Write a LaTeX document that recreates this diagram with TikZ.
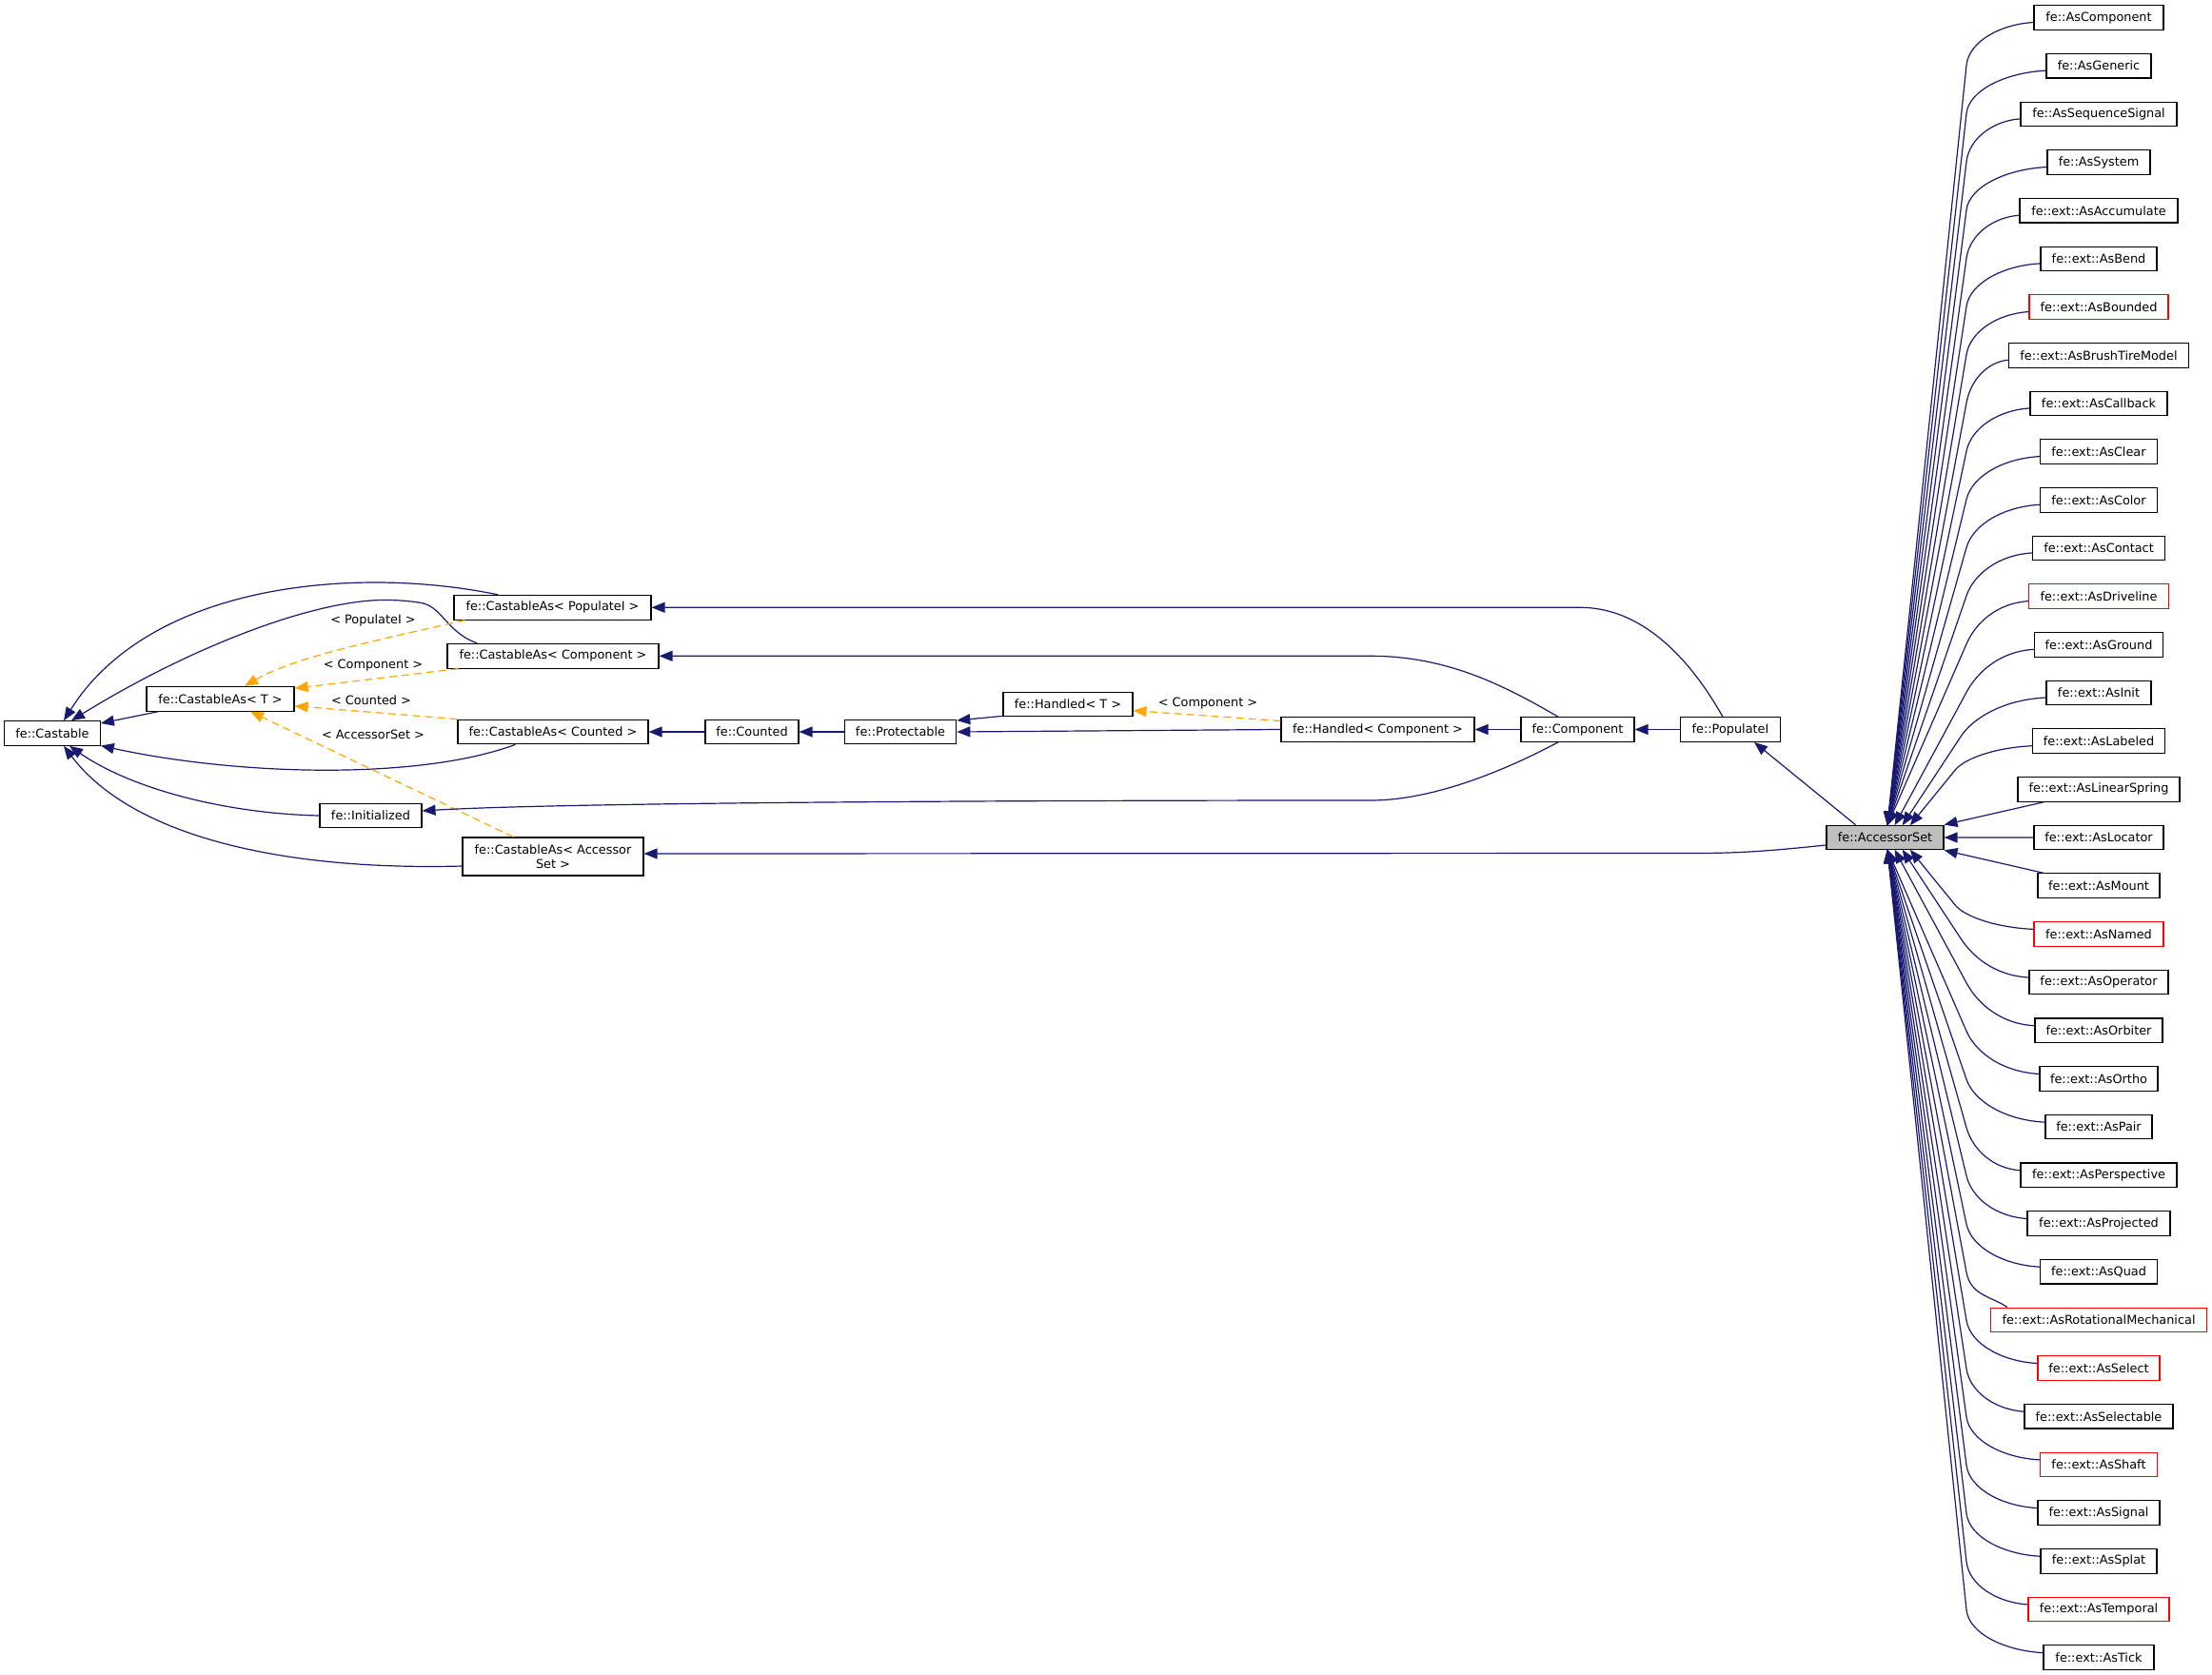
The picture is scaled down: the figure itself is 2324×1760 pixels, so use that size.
\documentclass[tikz,border=0pt]{standalone}
\usepackage{fontspec}
\setmainfont{DejaVu Sans}
\usetikzlibrary{arrows.meta,calc}
\definecolor{edgec}{HTML}{191970}
\definecolor{orng}{HTML}{FFA500}
\definecolor{greyfill}{HTML}{BFBFBF}
\begin{document}
\begin{tikzpicture}[x=1pt,y=-1pt,
  box/.style={draw=black, line width=1.1pt, fill=white, minimum height=25.6pt, inner sep=0pt,
    font=\fontsize{12.85}{14.5}\selectfont, text=black},
  lbl/.style={inner sep=0pt, font=\fontsize{12.85}{14.5}\selectfont, text=black},
  inh/.style={draw=edgec, line width=1.2pt, -{Triangle[length=14pt,width=11pt]}},
  tmpl/.style={draw=orng, line width=1.2pt, dash pattern=on 8pt off 5pt, -{Triangle[length=14pt,width=11pt]}}]
\useasboundingbox (0,0) rectangle (2324,1760);

% left and middle nodes
\node[box, minimum width=100.6pt] (castable) at (55,770.5) {fe::Castable};
\node[box, minimum width=155pt] (castT) at (231.5,734.3) {fe::CastableAs< T >};
\node[box, minimum width=207pt] (castPop) at (580.5,638.3) {fe::CastableAs< PopulateI >};
\node[box, minimum width=222pt] (castComp) at (581,689.3) {fe::CastableAs< Component >};
\node[box, minimum width=200pt] (castCnt) at (581,769) {fe::CastableAs< Counted >};
\node[box, minimum width=107pt] (init) at (389.5,857) {fe::Initialized};
\node[box, minimum width=190pt, minimum height=40pt, align=center] (castAcc) at (581,900) {fe::CastableAs< Accessor\\Set >};
\node[box, minimum width=98pt] (counted) at (790,769) {fe::Counted};
\node[box, minimum width=117.5pt] (prot) at (946,769) {fe::Protectable};
\node[box, minimum width=136pt] (handT) at (1122,740) {fe::Handled< T >};
\node[box, minimum width=203pt] (handC) at (1447.5,766.5) {fe::Handled< Component >};
\node[box, minimum width=119pt] (comp) at (1657.5,766.5) {fe::Component};
\node[box, minimum width=105pt] (popI) at (1818,766.5) {fe::PopulateI};
\node[box, fill=greyfill, minimum width=123pt] (acc) at (1980.5,880) {fe::AccessorSet};

% template labels
\node[lbl] (lPop) at (392,652.3) {< PopulateI >};
\node[lbl] (lComp) at (392,699.3) {< Component >};
\node[lbl] (lCnt) at (390,736) {< Counted >};
\node[lbl] (lAcc) at (392,771.7) {< AccessorSet >};
\node[lbl] (lHC) at (1269,739) {< Component >};

% right column
\foreach \i/\t/\w/\c in {
 0/fe::AsComponent/136/black, 1/fe::AsGeneric/110/black, 2/fe::AsSequenceSignal/164/black,
 3/fe::AsSystem/108/black, 4/fe::ext::AsAccumulate/166/black, 5/fe::ext::AsBend/122/black,
 6/fe::ext::AsBounded/146/red, 7/fe::ext::AsBrushTireModel/189/black, 8/fe::ext::AsCallback/144/black,
 9/fe::ext::AsClear/123/black, 10/fe::ext::AsColor/123/black, 11/fe::ext::AsContact/139/black,
 12/fe::ext::AsDriveline/147/red, 13/fe::ext::AsGround/135/black, 14/fe::ext::AsInit/110/black,
 15/fe::ext::AsLabeled/139/black, 16/fe::ext::AsLinearSpring/170/black, 17/fe::ext::AsLocator/136/black,
 18/fe::ext::AsMount/128/black, 19/fe::ext::AsNamed/136/red, 20/fe::ext::AsOperator/146/black,
 21/fe::ext::AsOrbiter/134/black, 22/fe::ext::AsOrtho/124/black, 23/fe::ext::AsPair/112/black,
 24/fe::ext::AsPerspective/164/black, 25/fe::ext::AsProjected/150/black, 26/fe::ext::AsQuad/123/black,
 27/fe::ext::AsRotationalMechanical/227/red, 28/fe::ext::AsSelect/128/red, 29/fe::ext::AsSelectable/156/black,
 30/fe::ext::AsShaft/123/red, 31/fe::ext::AsSignal/128/black, 32/fe::ext::AsSplat/122/black,
 33/fe::ext::AsTemporal/148/red, 34/fe::ext::AsTick/116/black}{
  \node[box, draw=\c, minimum width={\w pt}] (r\i) at (2205,{18.5+50.68*\i}) {\t};
}

% fan of edges into AccessorSet
\foreach \i/\w in {0/136,1/110,2/164,3/108,4/166,5/122,6/146,7/189,8/144,9/123,10/123,11/139,
  12/147,13/135,14/110,15/139,19/136,20/146,21/134,22/124,23/112,24/164,25/150,26/123,
  28/128,29/156,30/123,31/128,32/122,33/148,34/116}{
  \pgfmathsetmacro\yi{18.5+50.68*\i}
  \pgfmathsetmacro\xl{2205-\w/2}
  \pgfmathsetmacro\sg{\yi<880 ? 1 : -1}
  \pgfmathsetmacro\dy{abs(880-\yi)}
  \pgfmathsetmacro\tdx{2.5+0.16*max(0,250-\dy)}
  \pgfmathsetmacro\tx{1980.5+\tdx}
  \pgfmathsetmacro\ty{880-12.8*\sg}
  \pgfmathsetmacro\cx{2066-0.12*max(0,200-\dy)}
  \pgfmathsetmacro\off{min(50,0.3*\dy)}
  \pgfmathsetmacro\cy{\yi+\sg*\off}
  \pgfmathsetmacro\ux{(\cx-\tx)/100}
  \pgfmathsetmacro\uy{(\cy-\ty)/100}
  \pgfmathsetmacro\len{sqrt(\ux*\ux+\uy*\uy)}
  \pgfmathsetmacro\px{\cx+0.5*\off*(\ux/\len)}
  \pgfmathsetmacro\py{\cy+0.5*\off*(\uy/\len)}
  \pgfmathsetmacro\qx{\xl-0.5*(\xl-\cx)}
  \pgfmathsetmacro\qy{\yi+\sg*7}
  \draw[inh] ($(r\i.west)+(0,{5*\sg})$) .. controls (\qx,\qy) and (\px,\py) .. (\cx,\cy)
     -- ($(acc.center)+(\tdx,{-12.8*\sg})$);
}
\draw[inh] ($(r27.north west)+(18,0)$) .. controls (2092,1362) and (2070.6,1361.4) .. (2066,1336.9)
   -- ($(acc.center)+(2.5,12.8)$);
\draw[inh] ($(r16.south west)+(28,0)$) -- (acc.north east);
\draw[inh] (r17.west) -- (acc.east);
\draw[inh] ($(r18.north west)+(7,0)$) -- (acc.south east);

% left part edges
\draw[inh] ($(castT.south west)+(13,0)$) -- ($(castable.east)+(0,-10.5)$);
\draw[inh] ($(castPop.north west)+(47,0)$) .. controls (380,595) and (160,610) .. ($(castable.north)+(12,0)$);
\draw[inh] ($(castComp.north west)+(32,0)$) .. controls (468,664) and (465,636) .. (440,633)
   .. controls (425,631) and (415,630.5) .. (405,630.5)
   .. controls (330,630) and (200,680) .. ($(castable.north)+(20,0)$);
\draw[inh] ($(castCnt.south west)+(61,0)$) .. controls (440,820) and (250,815) .. ($(castable.east)+(0,13)$);
\draw[inh] (init.west) .. controls (240,855) and (140,830) .. ($(castable.south)+(18,0)$);
\draw[inh] ($(castAcc.west)+(0,10)$) .. controls (300,915) and (140,880) .. ($(castable.south)+(12,0)$);

% template edges
\draw[tmpl] ($(castPop.south west)+(12,0)$) .. controls (400,672) and (310,690) .. ($(castT.north)+(25.5,0)$);
\draw[tmpl] ($(castComp.south west)+(12,0)$) -- ($(castT.east)+(0,-11)$);
\draw[tmpl] (castCnt.north west) -- ($(castT.east)+(0,7.5)$);
\draw[tmpl] ($(castAcc.north west)+(54,0)$) -- ($(castT.south)+(31.5,0)$);
\draw[tmpl] ($(handC.west)+(0,-9)$) -- ($(handT.east)+(0,6.7)$);

% middle chain
\draw[inh] (counted.west) -- (castCnt.east);
\draw[inh] (prot.west) -- (counted.east);
\draw[inh] ($(handT.south west)+(0,-1)$) -- ($(prot.east)+(0,-12)$);
\draw[inh] (handC.west) -- (prot.east);
\draw[inh] (comp.west) -- (handC.east);
\draw[inh] (popI.west) -- (comp.east);
\draw[inh] ($(acc.north west)+(31,0)$) -- ($(popI.south)+(25,0)$);

% long edges
\draw[inh] ($(popI.north)+(-8,0)$) .. controls (1780,700) and (1730,638.3) .. (1660,638.3) -- (castPop.east);
\draw[inh] ($(comp.north)+(-20.5,0)$) .. controls (1580,720) and (1520,689.3) .. (1440,689.3) -- (castComp.east);
\draw[inh] ($(comp.south)+(-20.5,0)$) .. controls (1590,805) and (1510,841) .. (1440,841)
   .. controls (900,841) and (560,845) .. ($(init.east)+(0,-5)$);
\draw[inh] ($(acc.west)+(0,8)$) .. controls (1860,894) and (1830,896.5) .. (1780,896.5) -- ($(castAcc.east)+(0,-3)$);
\end{tikzpicture}
\end{document}
